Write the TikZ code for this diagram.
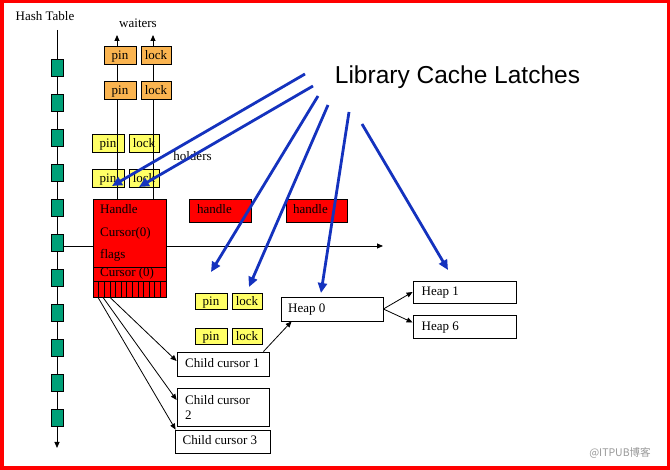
\documentclass[tikz,border=0pt]{standalone}
\usepackage{fontspec}
\setmainfont{Liberation Serif}
\newfontfamily\arialf{Liberation Sans}
\newfontfamily\cjkf{Noto Sans CJK SC}
\usetikzlibrary{arrows.meta}
\definecolor{hashgreen}{RGB}{0,160,120}
\definecolor{latchorange}{RGB}{250,180,80}
\definecolor{latchyellow}{RGB}{255,255,102}
\definecolor{latchblue}{RGB}{20,50,190}
\pgfdeclarelayer{background}
\pgfsetlayers{background,main}
\begin{document}
\begin{tikzpicture}[x=1pt,y=-1pt,
  txt/.style={font=\fontsize{13}{15}\selectfont, inner sep=0pt, text height=9pt, text depth=2pt},
  latch/.style={draw, line width=0.7pt, inner sep=0pt, minimum height=18pt, text height=10.5pt, text depth=0.5pt, font=\fontsize{13}{14}\selectfont},
  orangelatch/.style={latch, fill=latchorange},
  yellowlatch/.style={latch, fill=latchyellow},
  wbox/.style={draw, line width=0.8pt, fill=white, inner sep=0pt},
  redbox/.style={draw, line width=0.8pt, fill=red, inner sep=0pt},
  hashcell/.style={draw, line width=0.6pt, fill=hashgreen, minimum width=12pt, minimum height=17pt, inner sep=0pt},
  blackline/.style={line width=0.8pt},
  blk/.style={blackline, -{Triangle[length=6pt,width=5pt]}},
  latcharrow/.style={draw=latchblue, line width=2.8pt, -{Triangle[length=10pt,width=9pt]}}
]
\useasboundingbox (0,0) rectangle (670,470);
\fill[white] (0,0) rectangle (670,470);
\draw[red, line width=3.5pt] (1.75,1.75) rectangle (668.5,468);

% hash table
\node[txt] (hashtitle) at (45,17) {Hash Table};
\coordinate (htop) at (57,30);
\coordinate (hbot) at (57,448);
\draw[blk] (htop) -- (hbot);
\foreach \i in {0,...,10} \node[hashcell] (h\i) at (57,{68+35*\i}) {};

% horizontal chain arrow
\coordinate (chainstart) at (63,246);
\coordinate (chainend) at (383,246);
\draw[blk] (chainstart) -- (chainend);

% handle box
\node[redbox, minimum width=73pt, minimum height=98pt] (handle) at (129.5,248) {};
\draw[blackline] (93,267) -- (166,267);
\draw[blackline] (93,281) -- (166,281);
\foreach \k in {1,...,12} \draw[line width=0.6pt] ({93+\k*73/13},281) -- ({93+\k*73/13},297);
\node[txt, anchor=west] (hname) at (100,210) {Handle};
\node[txt, anchor=west] (hcur) at (100,233) {Cursor(0)};
\node[txt, anchor=west] (hflags) at (100,255) {flags};
\node[txt, anchor=west] (hcur2) at (100,273) {Cursor (0)};

% other handles
\node[redbox, minimum width=62pt, minimum height=23pt] (handle2) at (220,210.5) {};
\node[txt, anchor=west] (handle2t) at (197,210) {handle};
\node[redbox, minimum width=61pt, minimum height=23pt] (handle3) at (316.5,210.5) {};
\node[txt, anchor=west] (handle3t) at (293,210) {handle};

% holders (yellow, upper)
\node[yellowlatch, minimum width=32pt] (ypin1) at (108,143) {pin};
\node[yellowlatch, minimum width=30pt] (ylock1) at (144,143) {lock};
\node[yellowlatch, minimum width=32pt] (ypin2) at (108,178) {pin};
\node[yellowlatch, minimum width=30pt] (ylock2) at (144,178) {lock};
\coordinate (ypintip) at (105,123);
\coordinate (ylocktip) at (141,123);
\begin{pgfonlayer}{background}
\draw[blk] (handle.north -| ypintip) -- (ypintip);
\draw[blk] (handle.north -| ylocktip) -- (ylocktip);
\end{pgfonlayer}

% waiters (orange) lines
\coordinate (opintip) at (117,35);
\coordinate (olocktip) at (153,35);
\draw[blk] (handle.north -| opintip) -- (opintip);
\draw[blk] (handle.north -| olocktip) -- (olocktip);
\node[orangelatch, minimum width=32pt] (opin1) at (120,55) {pin};
\node[orangelatch, minimum width=30pt] (olock1) at (156,55) {lock};
\node[orangelatch, minimum width=32pt] (opin2) at (120,90) {pin};
\node[orangelatch, minimum width=30pt] (olock2) at (156,90) {lock};

\node[txt] (waiters) at (138,24) {waiters};
\node[txt] (holders) at (192.5,157) {holders};

% child cursors
\node[wbox, minimum width=92pt, minimum height=24pt] (cc1) at (223,364) {};
\node[txt, anchor=west] (cc1t) at (185,364) {Child cursor 1};
\node[wbox, minimum width=92pt, minimum height=38pt] (cc2) at (223,407) {};
\node[font=\fontsize{13}{15}\selectfont, inner sep=0pt, anchor=west, align=left] (cc2t) at (185,407.5) {Child cursor\\2};
\node[wbox, minimum width=95pt, minimum height=23pt] (cc3) at (222.5,441.5) {};
\node[txt, anchor=west] (cc3t) at (182.5,441) {Child cursor 3};

% lower yellow latches
\coordinate (lpintip) at (207,280);
\coordinate (llocktip) at (244,280);
\begin{pgfonlayer}{background}
\draw[blk] (cc1.north -| lpintip) -- (lpintip);
\draw[blk] (cc1.north -| llocktip) -- (llocktip);
\end{pgfonlayer}
\node[yellowlatch, minimum width=32pt, minimum height=16pt] (lpin1) at (211,301) {pin};
\node[yellowlatch, minimum width=30pt, minimum height=16pt] (llock1) at (247,301) {lock};
\node[yellowlatch, minimum width=32pt, minimum height=16pt] (lpin2) at (211,336) {pin};
\node[yellowlatch, minimum width=30pt, minimum height=16pt] (llock2) at (247,336) {lock};

% heaps
\node[wbox, minimum width=102pt, minimum height=24pt] (heap0) at (332,309) {};
\node[txt, anchor=west] (heap0t) at (288,309) {Heap 0};
\node[wbox, minimum width=103pt, minimum height=22pt] (heap1) at (464.5,292) {};
\node[txt, anchor=west] (heap1t) at (421.5,292) {Heap 1};
\node[wbox, minimum width=103pt, minimum height=23pt] (heap6) at (464.5,326.5) {};
\node[txt, anchor=west] (heap6t) at (421.5,327) {Heap 6};

% black connectors
\draw[blk] ([xshift=-19.5pt]handle.south) -- ([yshift=3pt]cc1.west);
\draw[blk] ([xshift=-26.5pt]handle.south) -- ([yshift=7pt]cc2.west);
\draw[blk] ([xshift=-31.5pt]handle.south) -- ([xshift=1pt]cc3.north west);
\draw[blk] ([xshift=-6pt]cc1.north east) -- ([xshift=11pt]heap0.south west);
\draw[blk] (heap0.east) -- (heap1.west);
\draw[blk] (heap0.east) -- ([yshift=4pt]heap6.west);

% title and blue arrows
\node[font=\arialf\fontsize{24.5}{28}\selectfont, inner sep=0pt] (title) at (457.5,77.5) {Library Cache Latches};
\coordinate (b1s) at (305,74);  \coordinate (b1e) at (112,186);
\coordinate (b2s) at (313,86);  \coordinate (b2e) at (139,187);
\coordinate (b3s) at (318,96);  \coordinate (b3e) at (211,272);
\coordinate (b4s) at (328,105); \coordinate (b4e) at (249,287);
\coordinate (b5s) at (349,112); \coordinate (b5e) at (321,293);
\coordinate (b6s) at (362,124); \coordinate (b6e) at (448,270);
\foreach \n in {1,...,6} \draw[latcharrow] (b\n s) -- (b\n e);

\node[font=\cjkf\fontsize{10.5}{12}\selectfont, text=black!40, inner sep=0pt] (wm) at (620,453) {@ITPUB博客};
\end{tikzpicture}
\end{document}
